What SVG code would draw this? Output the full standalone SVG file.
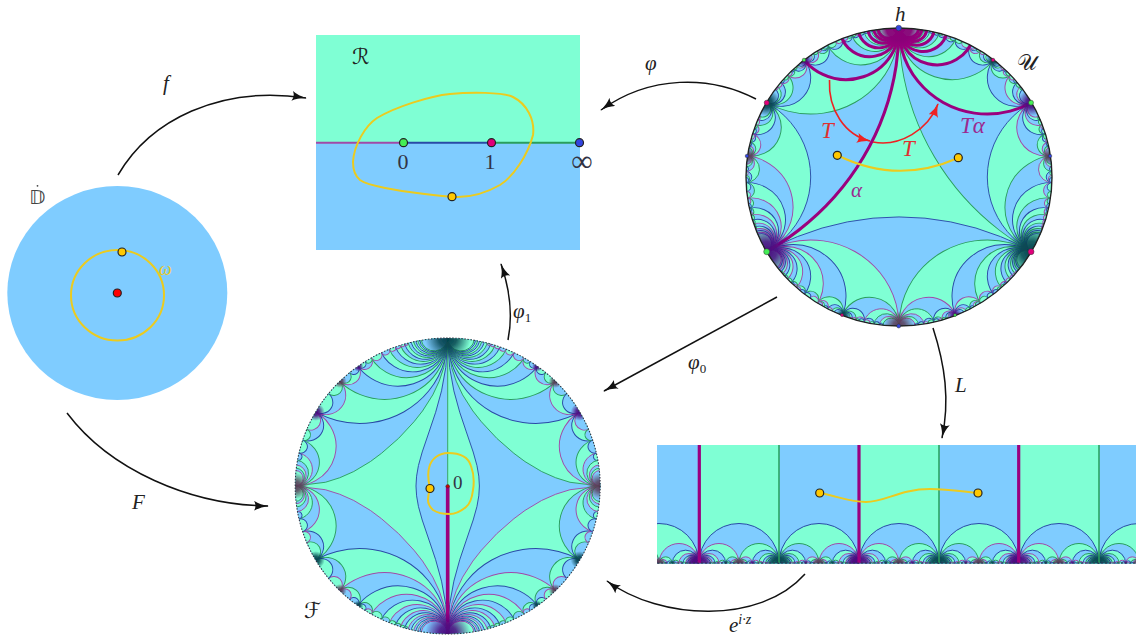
<svg xmlns="http://www.w3.org/2000/svg" width="1136" height="635" viewBox="0 0 1136 635">
<style>
svg{--b:#2a4aa6}
.p{stroke:var(--p)}.b{stroke:var(--b)}.g{stroke:var(--g)}.G{stroke:var(--G)}
.f0{fill:var(--f0)}.f1{fill:var(--f1)}
.fA{--f0:#7fccff;--f1:#7fffd4}.fB{--f0:#7fffd4;--f1:#7fccff}
.vA{--g:#a04aa8;--p:#2a9e5c}.vB{--g:#2a9e5c;--p:#a04aa8}
.S1{--p:var(--P);--b:var(--B);--g:var(--G)}.S2{--p:var(--B);--b:var(--P);--g:var(--G)}
.r0{--P:#a04aa8;--B:#2a4aa6;--G:#2a9e5c}.r1{--P:#2a9e5c;--B:#a04aa8;--G:#2a4aa6}.r2{--P:#2a4aa6;--B:#2a9e5c;--G:#a04aa8}
.tess{stroke-width:.62;stroke-linejoin:round}
.thick{fill:none;stroke:#9b007f;stroke-width:2}
.dot{stroke:#222;stroke-width:1.2}
.sm{stroke:#333;stroke-width:.5}
.yel{fill:none;stroke:#eccb1e;stroke-width:2}
.y{fill:#ffc800}
.gV{fill:url(#gV);stroke:none}.gT{fill:url(#gT);stroke:none}.gM{fill:url(#gM);stroke:none}.gP{fill:url(#gP);stroke:none}
text{font-family:"Liberation Serif","DejaVu Serif",serif;fill:#222}
.i{font-style:italic;font-size:21px}
.n{font-size:22px;fill:#334}
.cal{font-family:"DejaVu Sans","DejaVu Serif",serif;font-size:22px;font-weight:normal}
.conn{fill:none;stroke:#111;stroke-width:1.5;marker-end:url(#ah)}
.red{fill:none;stroke:#ee2222;stroke-width:1.6;marker-end:url(#ahr)}
</style>
<defs>
<marker id="ah" viewBox="0 0 15 10" refX="14" refY="5" markerWidth="15" markerHeight="10" orient="auto" markerUnits="userSpaceOnUse"><path d="M0 0Q6 4 15 5Q6 6 0 10Q3 5 0 0" fill="#111"/></marker>
<marker id="ahr" viewBox="0 0 14 10" refX="13" refY="5" markerWidth="14" markerHeight="10" orient="auto" markerUnits="userSpaceOnUse"><path d="M0 0Q6 4 14 5Q6 6 0 10Q3 5 0 0" fill="#ee2222"/></marker>
<filter id="soft" x="-2%" y="-2%" width="104%" height="104%"><feGaussianBlur stdDeviation=".35"/></filter>
<radialGradient id="gV"><stop offset="0" stop-color="#4a0a80"/><stop offset=".4" stop-color="#4a0a80" stop-opacity=".85"/><stop offset="1" stop-color="#4a0a80" stop-opacity="0"/></radialGradient>
<radialGradient id="gT"><stop offset="0" stop-color="#04424e"/><stop offset=".4" stop-color="#04424e" stop-opacity=".85"/><stop offset="1" stop-color="#04424e" stop-opacity="0"/></radialGradient>
<radialGradient id="gM"><stop offset="0" stop-color="#5a3a55"/><stop offset=".4" stop-color="#5a3a55" stop-opacity=".8"/><stop offset="1" stop-color="#5a3a55" stop-opacity="0"/></radialGradient>
<radialGradient id="gP"><stop offset="0" stop-color="#8a0078"/><stop offset=".55" stop-color="#8a0078" stop-opacity=".95"/><stop offset="1" stop-color="#8a0078" stop-opacity="0"/></radialGradient>
<clipPath id="unit"><circle r="100"/></clipPath>
<clipPath id="strip"><rect x="657" y="445" width="479" height="118.5"/></clipPath>
<g id="T">
<circle transform="rotate(30)" cy="-115.47" r="57.74" class="p f1"/>
<circle transform="rotate(49.1)" cy="-101.84" r="19.25" class="b f0"/>
<circle transform="rotate(53.4)" cy="-100.66" r="11.55" class="p f1"/>
<circle transform="rotate(55.3)" cy="-100.34" r="8.25" class="b f0"/>
<circle transform="rotate(56.3)" cy="-100.2" r="6.41" class="p f1"/>
<circle transform="rotate(57)" cy="-100.14" r="5.26" class="b f0"/>
<circle transform="rotate(53.3)" cy="-100" r="1.15" class="g f0"/>
<circle transform="rotate(51.6)" cy="-100.02" r="1.82" class="g f1"/>
<circle transform="rotate(48.7)" cy="-100.05" r="3.26" class="g f0"/>
<circle transform="rotate(49.8)" cy="-100" r="1.37" class="b f1"/>
<circle transform="rotate(47.9)" cy="-100.02" r="1.89" class="p f1"/>
<circle transform="rotate(42.5)" cy="-100.28" r="7.54" class="g f1"/>
<circle transform="rotate(45.2)" cy="-100.04" r="2.85" class="p f0"/>
<circle transform="rotate(45.8)" cy="-100" r="1.75" class="g f1"/>
<circle transform="rotate(44.2)" cy="-100" r="1.09" class="b f1"/>
<circle transform="rotate(40.9)" cy="-100.11" r="4.68" class="b f0"/>
<circle transform="rotate(42.8)" cy="-100" r="1.28" class="p f1"/>
<circle transform="rotate(40.15)" cy="-100.06" r="3.4" class="g f1"/>
<circle transform="rotate(41.7)" cy="-100" r=".72" class="p f0"/>
<circle transform="rotate(39.7)" cy="-100.04" r="2.67" class="b f0"/>
<circle transform="rotate(19.1)" cy="-105.82" r="34.63" class="g f0"/>
<circle transform="rotate(33)" cy="-100.41" r="9.1" class="b f1"/>
<circle transform="rotate(35.2)" cy="-100.14" r="5.25" class="g f0"/>
<circle transform="rotate(36.1)" cy="-100.07" r="3.69" class="b f1"/>
<circle transform="rotate(36.6)" cy="-100.04" r="2.84" class="g f0"/>
<circle transform="rotate(33.1)" cy="-100.01" r="1.55" class="p f1"/>
<circle transform="rotate(30)" cy="-100.07" r="3.84" class="p f0"/>
<circle transform="rotate(31.4)" cy="-100" r="1.4" class="g f1"/>
<circle transform="rotate(29.2)" cy="-100.03" r="2.44" class="b f1"/>
<circle transform="rotate(28.8)" cy="-100.01" r="1.78" class="p f0"/>
<circle transform="rotate(13.9)" cy="-103.01" r="24.74" class="p f1"/>
<circle transform="rotate(24.8)" cy="-100.14" r="5.25" class="b f0"/>
<circle transform="rotate(26.1)" cy="-100.04" r="2.94" class="p f1"/>
<circle transform="rotate(23.1)" cy="-100.03" r="2.3" class="g f1"/>
<circle transform="rotate(10.9)" cy="-101.84" r="19.25" class="g f0"/>
<circle transform="rotate(19.85)" cy="-100.06" r="3.4" class="b f1"/>
<circle transform="rotate(20.7)" cy="-100.02" r="1.87" class="g f0"/>
<circle transform="rotate(18.8)" cy="-100.01" r="1.53" class="p f0"/>
<circle transform="rotate(8.95)" cy="-101.23" r="15.75" class="p f1"/>
<circle transform="rotate(16.54)" cy="-100.03" r="2.37" class="b f0"/>
<circle transform="rotate(17.17)" cy="-100.01" r="1.28" class="p f1"/>
<circle transform="rotate(15.8)" cy="-100" r="1.09" class="g f1"/>
<circle transform="rotate(7.59)" cy="-100.88" r="13.32" class="g f0"/>
<circle transform="rotate(14.18)" cy="-100.02" r="1.75" class="b f1"/>
<circle transform="rotate(6.59)" cy="-100.66" r="11.55" class="p f1"/>
<circle transform="rotate(12.4)" cy="-100.01" r="1.34" class="b f0"/>
<circle transform="rotate(5.82)" cy="-100.52" r="10.19" class="g f0"/>
<circle transform="rotate(11.03)" cy="-100" r="1.07" class="b f1"/>
<circle transform="rotate(5.21)" cy="-100.41" r="9.12" class="p f1"/>
<circle transform="rotate(9.93)" cy="-100" r=".87" class="b f0"/>
<circle transform="rotate(4.71)" cy="-100.34" r="8.25" class="g f0"/>
<circle transform="rotate(4.31)" cy="-100.28" r="7.53" class="p f1"/>
<circle transform="rotate(3.96)" cy="-100.24" r="6.93" class="g f0"/>
<circle transform="rotate(3.67)" cy="-100.2" r="6.41" class="p f1"/>
</g>
<g id="S">
<circle transform="rotate(60)" cy="-200" r="173.2" class="G f0"/>
<use href="#T" class="S1"/>
<use href="#T" class="S2" transform="rotate(120) scale(-1 1)"/>
</g>
<g id="Q">
<path class="g f1" d="M0-100L2.52-80.2 5.57-70.8 9.77-61.6 16.5-50.7 22.1-43.4 32.2-32.2 43.4-22.1 50.7-16.5 61.6-9.77 70.8-5.57 80.2-2.52 100 0A100 100 0 0 0 0-100Z"/>
<circle transform="rotate(30)" cy="-115.47" r="57.74" class="b f0"/>
<circle transform="rotate(52.5)" cy="-100.86" r="13.17" class="p f1"/>
<circle transform="rotate(48.2)" cy="-100.16" r="5.61" class="g f0"/>
<circle transform="rotate(55.7)" cy="-100.28" r="7.5" class="b f0"/>
<circle transform="rotate(75)" cy="-103.53" r="26.79" class="p f0"/>
<circle transform="rotate(66)" cy="-100.55" r="10.51" class="b f1"/>
<circle transform="rotate(63.75)" cy="-100.21" r="6.55" class="p f0"/>
<circle transform="rotate(69.75)" cy="-100.08" r="3.93" class="g f0"/>
<circle transform="rotate(81)" cy="-101.25" r="15.84" class="g f1"/>
<circle transform="rotate(74.57)" cy="-100.1" r="4.49" class="b f0"/>
<circle transform="rotate(83.57)" cy="-100.63" r="11.27" class="p f0"/>
<circle transform="rotate(78.57)" cy="-100.03" r="2.5" class="b f1"/>
<circle transform="rotate(85)" cy="-100.38" r="8.75" class="g f1"/>
<circle transform="rotate(85.91)" cy="-100.26" r="7.15" class="p f0"/>
<circle transform="rotate(86.54)" cy="-100.18" r="6.05" class="g f1"/>
<circle transform="rotate(87)" cy="-100.14" r="5.24" class="p f0"/>
<circle transform="rotate(22.5)" cy="-108.24" r="41.42" class="g f1"/>
<circle transform="rotate(40.5)" cy="-100.31" r="7.87" class="p f0"/>
<circle transform="rotate(38)" cy="-100.06" r="3.49" class="b f1"/>
<circle transform="rotate(42.5)" cy="-100.1" r="4.37" class="g f1"/>
<circle transform="rotate(18)" cy="-105.15" r="32.49" class="b f0"/>
<circle transform="rotate(33)" cy="-100.14" r="5.24" class="p f1"/>
<circle transform="rotate(31.36)" cy="-100.03" r="2.38" class="g f0"/>
<circle transform="rotate(34.36)" cy="-100.04" r="2.86" class="b f0"/>
<circle transform="rotate(15)" cy="-103.53" r="26.79" class="g f1"/>
<circle transform="rotate(27.86)" cy="-100.07" r="3.74" class="p f0"/>
<circle transform="rotate(12.86)" cy="-102.57" r="22.83" class="b f0"/>
<circle transform="rotate(24.1)" cy="-100.04" r="2.81" class="p f1"/>
<circle transform="rotate(11.25)" cy="-101.96" r="19.89" class="g f1"/>
<circle transform="rotate(21.25)" cy="-100.02" r="2.18" class="p f0"/>
<circle transform="rotate(10)" cy="-101.54" r="17.63" class="b f0"/>
<circle transform="rotate(19)" cy="-100.02" r="1.75" class="p f1"/>
<circle transform="rotate(9)" cy="-101.25" r="15.84" class="g f1"/>
<circle transform="rotate(17.18)" cy="-100.01" r="1.43" class="p f0"/>
<circle transform="rotate(8.18)" cy="-101.03" r="14.38" class="b f0"/>
<circle transform="rotate(15.7)" cy="-100.01" r="1.19" class="p f1"/>
<circle transform="rotate(7.5)" cy="-100.86" r="13.17" class="g f1"/>
<circle transform="rotate(6.92)" cy="-100.73" r="12.14" class="b f0"/>
<circle transform="rotate(6.43)" cy="-100.63" r="11.27" class="g f1"/>
<circle transform="rotate(6)" cy="-100.55" r="10.51" class="b f0"/>
<circle transform="rotate(5.63)" cy="-100.48" r="9.85" class="g f1"/>
<circle transform="rotate(5.29)" cy="-100.43" r="9.26" class="b f0"/>
<circle transform="rotate(5)" cy="-100.38" r="8.75" class="g f1"/>
</g>
<g id="H">
<path class="b f0" d="M0 100L1.26 80.1 4.04 64.3 7.9 49.8 12.05 37.1 16.7 23 19.17 13.9 20.4 6.63 20.79 0 20.4-6.63 19.17-13.9 16.7-23 12.05-37.1 7.9-49.8 4.04-64.3 1.26-80.1 0-100A100 100 0 0 1 0 100Z"/>
<use href="#Q" class="vB"/>
<use href="#Q" class="vA" transform="scale(1 -1)"/>
</g>
<g id="LQ">
<circle cx="20" r="20" class="g f1"/>
<circle cx="13.33" r="13.33" class="b f0"/>
<circle cx="23.33" r="3.33" class="p f1"/>
<circle cx="21.43" r="1.43" class="g f0"/>
<circle cx="24.76" r="1.9" class="b f0"/>
<circle cx="33.33" r="6.67" class="p f0"/>
<circle cx="29.33" r="2.67" class="b f1"/>
<circle cx="28.33" r="1.67" class="p f0"/>
<circle cx="36" r="4" class="g f1"/>
<circle cx="33.14" r="1.14" class="b f0"/>
<circle cx="37.14" r="2.86" class="p f0"/>
<circle cx="37.78" r="2.22" class="g f1"/>
<circle cx="38.18" r="1.82" class="p f0"/>
<circle cx="10" r="10" class="g f1"/>
<circle cx="18" r="2" class="p f0"/>
<circle cx="16.89" r=".89" class="b f1"/>
<circle cx="18.89" r="1.11" class="g f1"/>
<circle cx="8" r="8" class="b f0"/>
<circle cx="14.67" r="1.33" class="p f1"/>
<circle cx="6.67" r="6.67" class="g f1"/>
<circle cx="12.38" r=".95" class="p f0"/>
<circle cx="5.71" r="5.71" class="b f0"/>
<circle cx="10.71" r=".71" class="p f1"/>
<circle cx="5" r="5" class="g f1"/>
<circle cx="4.44" r="4.44" class="b f0"/>
<circle cx="4" r="4" class="g f1"/>
<circle cx="3.64" r="3.64" class="b f0"/>
<circle cx="3.33" r="3.33" class="g f1"/>
</g>
<g id="P" stroke-width="1">
<circle cx="40" r="40" class="b" fill="#7fccff"/>
<circle cx="120" r="40" class="b" fill="#7fffd4"/>
<use href="#LQ" class="vA fA"/>
<use href="#LQ" class="vB fA" transform="translate(80) scale(-1 1)"/>
<use href="#LQ" class="vB fB" transform="translate(80)"/>
<use href="#LQ" class="vA fB" transform="translate(160) scale(-1 1)"/>
<circle class="gV" r="14"/><circle class="gT" cx="80" r="14"/><circle class="gV" cx="160" r="14"/>
<circle class="gM" cx="40" r="7"/><circle class="gM" cx="120" r="7"/>
<circle class="gT" cx="26.7" r="3"/><circle class="gV" cx="53.3" r="3"/><circle class="gV" cx="106.7" r="3"/><circle class="gT" cx="133.3" r="3"/>
</g>
</defs>

<g id="connectors">
<path class="conn" d="M118 175C150 120 220 85 306 98"/>
<path class="conn" d="M756 99C710 75 650 75 601 110"/>
<path class="conn" d="M777 297L604 391"/>
<path class="conn" d="M508 340C513 315 510 290 501 264"/>
<path class="conn" d="M67 413C110 470 190 505 268 506"/>
<path class="conn" d="M933 328C945 365 950 400 942 438"/>
<path class="conn" d="M805 574C760 625 660 620 607 581"/>
<text class="i" x="163" y="90">f</text>
<text class="i" x="132" y="509">F</text>
<text class="i" x="645" y="70">φ</text>
<text class="i" x="513" y="318">φ<tspan font-size="13" font-style="normal" dy="4">1</tspan></text>
<text class="i" x="688" y="369">φ<tspan font-size="13" font-style="normal" dy="4">0</tspan></text>
<text class="i" x="955" y="392">L</text>
<text class="i" x="729" y="632">e<tspan font-size="14" dy="-8">i·z</tspan></text>
</g>

<g id="node-D">
<ellipse cx="117.3" cy="293" rx="110" ry="107" fill="#7fccff"/>
<ellipse class="yel" cx="117.5" cy="295.3" rx="46.5" ry="45.3"/>
<circle class="dot" cx="117.3" cy="293" r="4" fill="#ff0000"/>
<circle class="dot y" cx="122" cy="252" r="4"/>
<text x="159" y="275" font-style="italic" font-size="18" style="fill:#eccb1e">ω</text>
<text x="29" y="204" font-size="20" style="font-family:'DejaVu Sans',sans-serif;fill:#444">𝔻</text>
<circle cx="37.500" cy="185.800" r=".9" fill="#444"/>
</g>

<g id="node-R">
<rect x="316" y="35" width="264" height="108" fill="#7fffd4"/>
<rect x="316" y="143" width="264" height="107" fill="#7fccff"/>
<path d="M316 142.7H403.500" stroke="#a04aa8" stroke-width="2" fill="none"/>
<path d="M403.500 142.7H491.500" stroke="#2a4aa6" stroke-width="2" fill="none"/>
<path d="M491.500 142.7H580" stroke="#2a9e5c" stroke-width="2" fill="none"/>
<path class="yel" d="M452 196.700C468 198 486 193 500 185C513 177 528 155 533 135C535 120 527 104 513 97C503 92 470 92 450 94C430 96 395 107 377 118C365 126 354 145 353 162C353 170 355 176 360 180C368 186 400 191 417 193C430 195 442 196 452 196.700Z"/>
<circle class="dot" cx="403.500" cy="142.700" r="4" fill="#44ee55"/>
<circle class="dot" cx="491.500" cy="142.700" r="4" fill="#e0007a"/>
<circle class="dot" cx="579.500" cy="142.700" r="4" fill="#3344e0"/>
<circle class="dot y" cx="452" cy="196.700" r="4"/>
<text class="n" x="403" y="169" text-anchor="middle">0</text>
<text class="n" x="490" y="169" text-anchor="middle">1</text>
<text x="582" y="171" text-anchor="middle" style="font-size:30px;fill:#334">∞</text>
<text class="cal" x="352" y="64">ℛ</text>
</g>

<g id="node-U">
<g filter="url(#soft)">
<g transform="translate(899 177) scale(1.53 1.49)">
<g clip-path="url(#unit)" class="tess fA">
<circle r="100" fill="#7fffd4"/>
<use href="#S" class="r0"/>
<use href="#S" class="r1" transform="rotate(120)"/>
<use href="#S" class="r2" transform="rotate(240)"/>
<circle class="thick" transform="rotate(-60)" cy="-200" r="173.2"/>
<circle class="thick" transform="rotate(30)" cy="-115.47" r="57.74"/>
<circle class="thick" transform="rotate(-19.1)" cy="-105.82" r="34.63"/>
<circle class="thick" transform="rotate(13.9)" cy="-103.01" r="24.74"/>
<circle class="thick" transform="rotate(-10.9)" cy="-101.84" r="19.25"/>
<circle class="thick" transform="rotate(8.95)" cy="-101.23" r="15.75"/>
<circle class="thick" transform="rotate(-7.59)" cy="-100.88" r="13.32"/>
<circle class="thick" transform="rotate(6.59)" cy="-100.66" r="11.55"/>
<circle class="thick" transform="rotate(-5.82)" cy="-100.52" r="10.19"/>
<circle class="thick" transform="rotate(5.21)" cy="-100.41" r="9.12"/>
<circle class="thick" transform="rotate(-4.71)" cy="-100.34" r="8.25"/>
<circle class="thick" transform="rotate(4.31)" cy="-100.28" r="7.53"/>
<circle class="thick" transform="rotate(-3.96)" cy="-100.24" r="6.93"/>
<circle class="thick" transform="rotate(3.67)" cy="-100.2" r="6.41"/>
<circle class="gP" cy="-100" r="15"/>
<circle class="gV" cx="-86.6" cy="50" r="17"/>
<circle class="gT" cx="86.6" cy="50" r="17"/>
<circle class="gM" cy="100" r="10"/>
<circle class="gV" cx="86.6" cy="-50" r="9"/>
<circle class="gT" cx="-86.6" cy="-50" r="9"/>
<circle class="gM" cx="99" cy="-14" r="6"/>
<circle class="gM" cx="-99" cy="-14" r="6"/>
<circle class="gT" cx="62" cy="-78.6" r="5"/>
<circle class="gV" cx="-62" cy="-78.600" r="5"/>
<circle class="gV" cx="36.600" cy="93" r="5"/>
<circle class="gT" cx="-36.600" cy="93" r="5"/>
</g>
<circle r="100" fill="none" stroke="#222" stroke-width=".9"/>
</g>
</g>
<path class="yel" d="M837 155Q897 185 958 158"/>
<circle class="dot y" cx="837.300" cy="155.300" r="4"/>
<circle class="dot y" cx="958.300" cy="157.700" r="4"/>
<path class="red" d="M829.500 80C828 110 845 135 870 141"/>
<path class="red" d="M873 142C900 147 928 130 938 104"/>
<circle class="sm" cx="898.700" cy="28" r="2.800" fill="#3344e0"/>
<circle class="sm" cx="766.700" cy="251.700" r="3" fill="#44ee55"/>
<circle class="sm" cx="1031" cy="251.700" r="3" fill="#e0007a"/>
<circle class="sm" cx="898.700" cy="326" r="2" fill="#3344e0"/>
<circle class="sm" cx="766.700" cy="102.700" r="2.500" fill="#e0007a"/>
<circle class="sm" cx="1031" cy="102.700" r="2.500" fill="#44ee55"/>
<circle class="sm" cx="1050" cy="156" r="1.800" fill="#3344e0"/>
<circle class="sm" cx="747" cy="156" r="1.800" fill="#3344e0"/>
<circle class="sm" cx="804" cy="60" r="1.800" fill="#44ee55"/>
<circle class="sm" cx="993" cy="60" r="1.800" fill="#e0007a"/>
<circle class="sm" cx="842" cy="315" r="1.500" fill="#e0007a"/>
<circle class="sm" cx="955" cy="315" r="1.500" fill="#44ee55"/>
<text class="i" x="895" y="21">h</text>
<text class="cal" x="1017" y="70">𝒰</text>
<text class="i" x="821" y="138" style="fill:#e03030;font-size:23px">T</text>
<text class="i" x="902" y="156" style="fill:#e03030;font-size:23px">T</text>
<text class="i" x="960" y="133" style="fill:#9b2a90;font-size:23px">Tα</text>
<text class="i" x="851" y="197" style="fill:#9b2a90">α</text>
</g>

<g id="node-F">
<g filter="url(#soft)">
<g transform="translate(447.700 486) scale(1.525 1.48)">
<g clip-path="url(#unit)" class="tess">
<rect x="-100" y="-100" width="100" height="200" fill="#7fccff"/>
<rect x="0" y="-100" width="100" height="200" fill="#7fffd4"/>
<use href="#H" class="fA"/>
<use href="#H" class="fB" transform="scale(-1 1)"/>
<path d="M0-100V0" stroke="#2a9e5c" fill="none"/>
<path d="M0 0V100" stroke="#9b007f" stroke-width="2.400" fill="none"/>
<circle class="gT" cy="-100" r="15"/>
<circle class="gV" cy="100" r="15"/>
<circle class="gM" cx="100" r="9"/><circle class="gM" cx="-100" r="9"/>
<circle class="gV" cx="86.600" cy="-50" r="6"/><circle class="gV" cx="-86.600" cy="-50" r="6"/>
<circle class="gT" cx="86.600" cy="50" r="6"/><circle class="gT" cx="-86.600" cy="50" r="6"/>
<circle class="gM" cx="70.700" cy="-70.700" r="4.500"/><circle class="gM" cx="-70.700" cy="-70.700" r="4.500"/>
<circle class="gM" cx="70.700" cy="70.700" r="4.500"/><circle class="gM" cx="-70.700" cy="70.700" r="4.500"/>
<circle class="gV" cx="58.800" cy="-80.900" r="3.500"/><circle class="gV" cx="-58.800" cy="-80.900" r="3.500"/>
<circle class="gT" cx="58.800" cy="80.900" r="3.500"/><circle class="gT" cx="-58.800" cy="80.900" r="3.500"/>
</g>
<circle r="100" fill="none" stroke="#334" stroke-width=".7" stroke-dasharray="1 1"/>
</g>
</g>
<path class="yel" d="M430 488.700C428 480 428 472 429 468C431 458 440 453 448 453C458 453 468 456 471 466C474 474 474 484 473 490C472 498 470 504 466 507C460 512 455 514 450 514C443 514 436 512 433 510C429 506 428 503 428 500C428 496 429 492 430 488.700Z"/>
<circle class="dot y" cx="430" cy="488.500" r="4"/>
<circle class="sm" cx="447.700" cy="486.300" r="1.800" fill="#cc0000"/>
<text x="453" y="489" style="font-size:19px;fill:#334">0</text>
<text class="cal" x="304" y="618">ℱ</text>
</g>

<g id="node-L">
<g filter="url(#soft)">
<rect x="657" y="445" width="42" height="119" fill="#7fccff"/>
<rect x="699" y="445" width="80" height="119" fill="#7fffd4"/>
<rect x="779" y="445" width="80" height="119" fill="#7fccff"/>
<rect x="859" y="445" width="80" height="119" fill="#7fffd4"/>
<rect x="939" y="445" width="80" height="119" fill="#7fccff"/>
<rect x="1019" y="445" width="80" height="119" fill="#7fffd4"/>
<rect x="1099" y="445" width="37" height="119" fill="#7fccff"/>
<g clip-path="url(#strip)">
<use href="#P" transform="translate(539 563.500)"/>
<use href="#P" transform="translate(699 563.500)"/>
<use href="#P" transform="translate(859 563.500)"/>
<use href="#P" transform="translate(1019 563.500)"/>
</g>
<path d="M779 445V563M939 445V563M1099 445V563" stroke="#2a9e5c" stroke-width="1.500" fill="none"/>
<path d="M699.300 445V563M859 445V563M1018.700 445V563" stroke="#9b007f" stroke-width="3.200" fill="none"/>
<path d="M657 563H1136" stroke="#335" stroke-width="1" stroke-dasharray="2 2" fill="none"/>
</g>
<path class="yel" d="M820 493C840 497 850 502 866 502C885 502 900 489 930 489C950 489 965 492 978 493"/>
<circle class="dot y" cx="819.700" cy="493" r="4"/>
<circle class="dot y" cx="978" cy="493" r="4"/>
</g>
</svg>
